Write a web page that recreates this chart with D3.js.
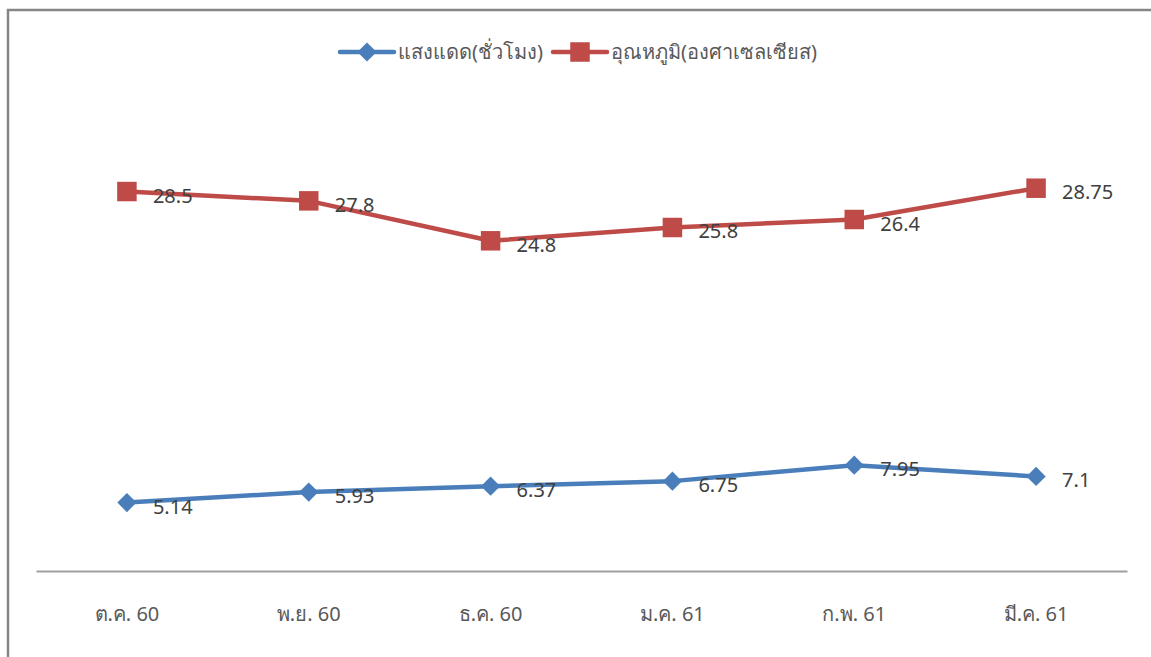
<!DOCTYPE html>
<html>
<head>
<meta charset="utf-8">
<script src="https://cdn.jsdelivr.net/npm/d3@7"></script>
<style>
  body { margin: 0; background: #fff; }
  text { font-family: Tahoma, "Noto Sans", "DejaVu Sans", sans-serif; }
</style>
</head>
<body>
<div id="my_dataviz"></div>
<script>

// --------------------------------------------------------
// (1) Data
// --------------------------------------------------------

var months = ["ต.ค. 60", "พ.ย. 60", "ธ.ค. 60", "ม.ค. 61", "ก.พ. 61", "มี.ค. 61"]
var sunHours = [5.14, 5.93, 6.37, 6.75, 7.95, 7.1]
var temperature = [28.5, 27.8, 24.8, 25.8, 26.4, 28.75]
var seriesNames = ["แสงแดด(ชั่วโมง)", "อุณหภูมิ(องศาเซลเซียส)"]

// --------------------------------------------------------
// (2) Layout
// --------------------------------------------------------

var svg_width = 1151
var svg_height = 657

const margin = { top: 105, right: 24, bottom: 86, left: 36 }

var width = svg_width - (margin.left + margin.right)
var height = svg_height - (margin.top + margin.bottom)

const blue = "#4a7ebb"
const red = "#be4b48"

const svg = d3.select("#my_dataviz")
  .append("svg")
    .attr("width", svg_width)
    .attr("height", svg_height)

// chart frame (only top and left edges visible)
svg.append("path")
  .attr("d", `M8,${svg_height} L8,10 L${svg_width},10`)
  .attr("fill", "none")
  .attr("stroke", "#868686")
  .attr("stroke-width", 2.5)

const g = svg.append("g")
  .attr("transform", `translate(${margin.left}, ${margin.top})`)

// --------------------------------------------------------
// (3) Scales and axis
// --------------------------------------------------------

const x = d3.scaleBand()
  .domain(months)
  .range([0, width])

const y = d3.scaleLinear()
  .domain([0, 35])
  .range([height, 0])

const xAxis = g.append("g")
  .attr("transform", `translate(0, ${height})`)
  .call(d3.axisBottom(x).tickSize(0).tickPadding(36))

xAxis.select(".domain").attr("stroke", "#a0a0a0").attr("stroke-width", 2)
xAxis.selectAll("text")
  .attr("fill", "#595959")
  .style("font-size", "20px")
  .style("font-family", "Tahoma, 'Noto Sans', 'DejaVu Sans', sans-serif")

const cx = d => x(d) + x.bandwidth() / 2

// markers: square, or a square turned 45 degrees for the diamond
function marker(sel, kind) {
  sel.attr("d", d3.symbol().type(d3.symbolSquare).size(kind === "square" ? 380 : 185))
}
const turn = kind => kind === "diamond" ? " rotate(45)" : ""

// --------------------------------------------------------
// (4) Lines, markers, labels
// --------------------------------------------------------

function drawSeries(values, color, kind) {
  const pts = values.map((v, i) => [cx(months[i]), y(v)])

  g.append("path")
    .attr("d", d3.line()(pts))
    .attr("fill", "none")
    .attr("stroke", color)
    .attr("stroke-width", 4.5)
    .attr("stroke-linejoin", "round")

  g.selectAll(null)
    .data(pts)
    .join("path")
      .attr("transform", p => `translate(${p[0]}, ${p[1]})` + turn(kind))
      .attr("fill", color)
      .call(marker, kind)

  g.selectAll(null)
    .data(values)
    .join("text")
      .attr("x", (v, i) => cx(months[i]) + 26)
      .attr("y", v => y(v) + 11)
      .attr("fill", "#404040")
      .style("font-size", "20px")
      .text(v => v)
}

drawSeries(temperature, red, "square")
drawSeries(sunHours, blue, "diamond")

// --------------------------------------------------------
// (5) Legend
// --------------------------------------------------------

const legend = [
  { name: seriesNames[0], color: blue, kind: "diamond", x0: 340 },
  { name: seriesNames[1], color: red, kind: "square", x0: 553 }
]

legend.forEach(l => {
  const lg = svg.append("g").attr("transform", `translate(${l.x0}, 52)`)
  lg.append("line")
    .attr("x1", 0).attr("x2", 54)
    .attr("stroke", l.color)
    .attr("stroke-width", 4.5)
    .attr("stroke-linecap", "round")
  lg.append("path")
    .attr("transform", "translate(27, 0)" + turn(l.kind))
    .attr("fill", l.color)
    .call(marker, l.kind)
  lg.append("text")
    .attr("x", 58)
    .attr("y", 7)
    .attr("fill", "#595959")
    .style("font-size", "20px")
    .text(l.name)
})

</script>
</body>
</html>
